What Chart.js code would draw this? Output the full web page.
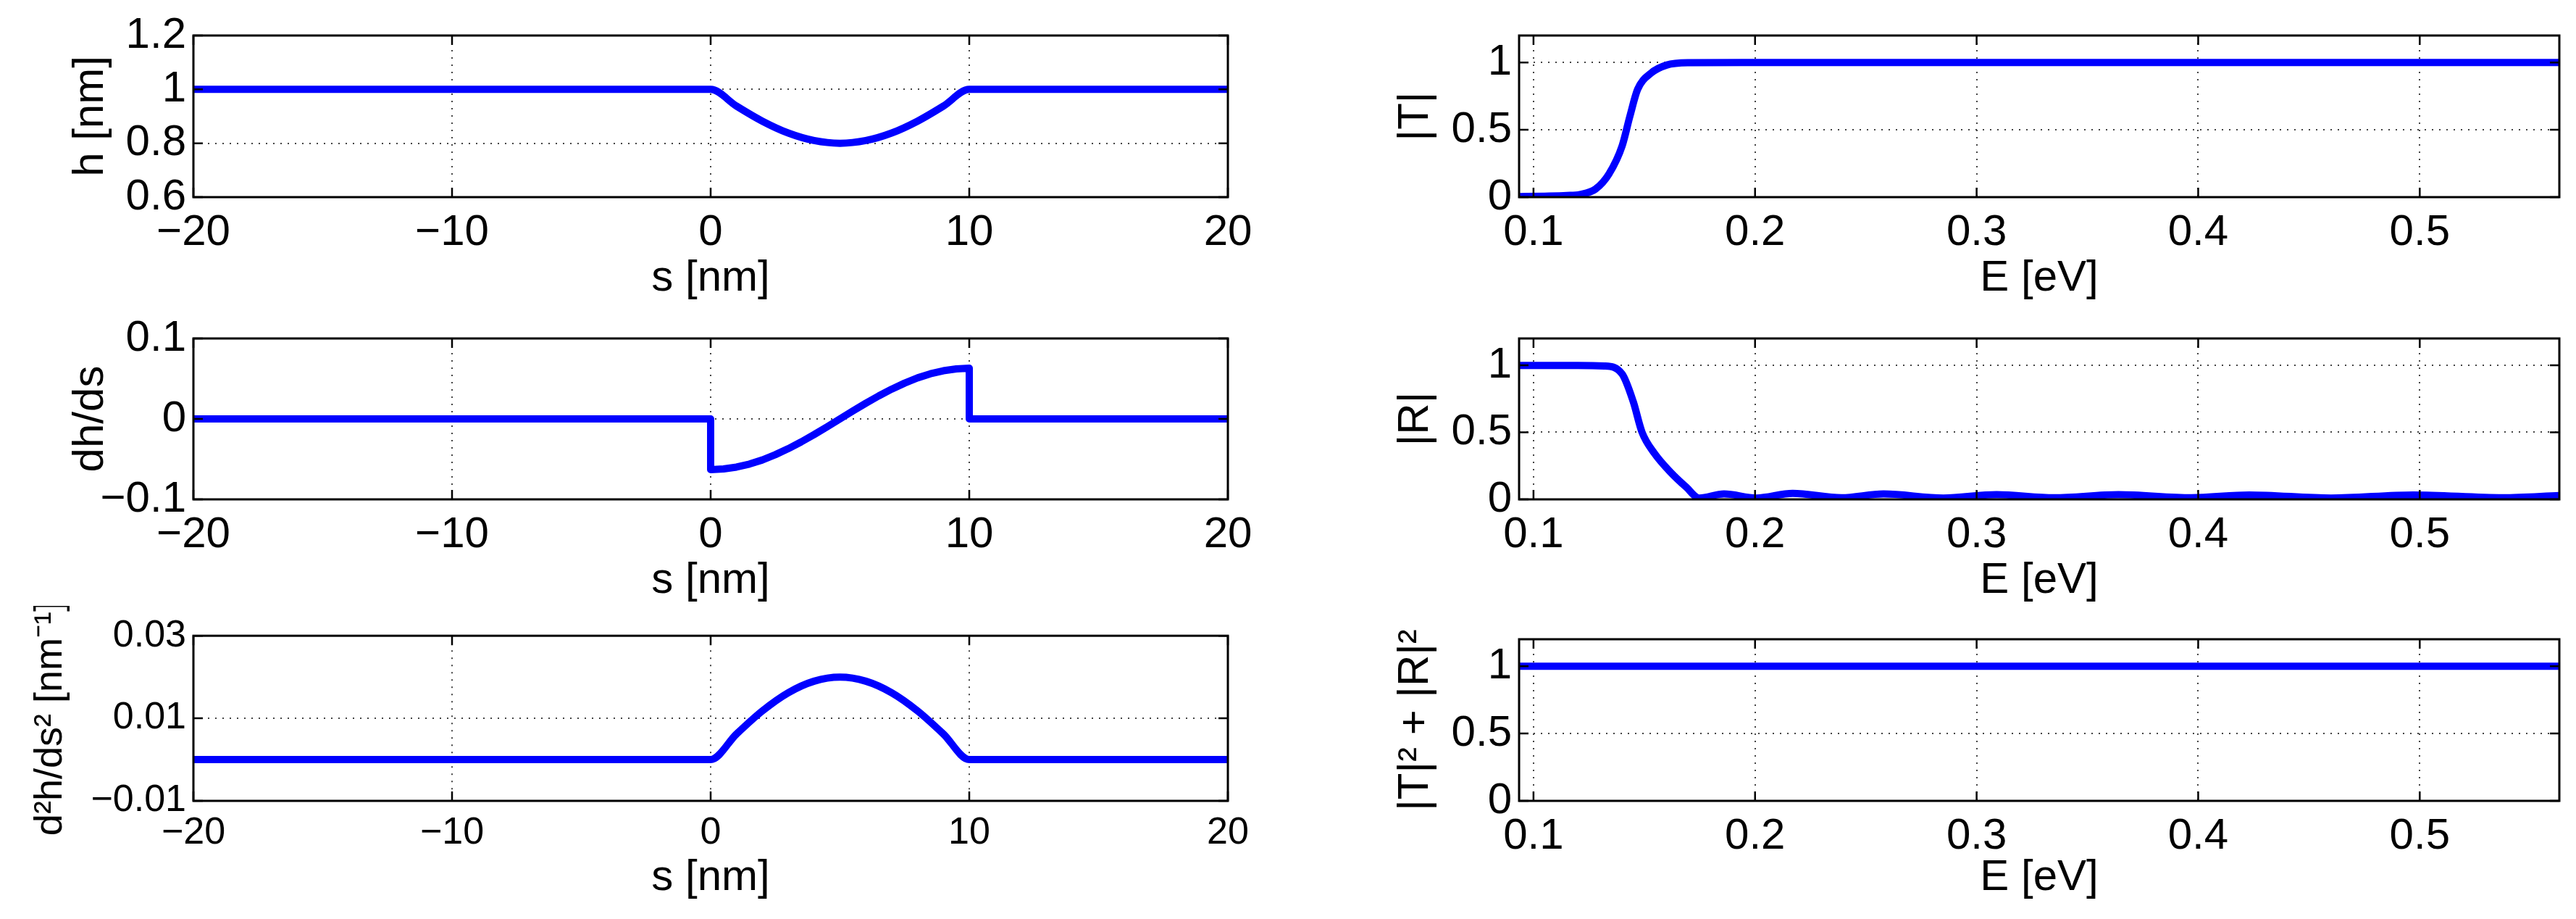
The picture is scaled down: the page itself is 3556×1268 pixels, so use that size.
<!DOCTYPE html>
<html><head><meta charset="utf-8">
<script src="https://cdn.jsdelivr.net/npm/chart.js@4"></script>
<style>
html,body{margin:0;padding:0;background:#fff;width:3556px;height:1268px;overflow:hidden;position:relative}
.c{position:absolute}
</style></head><body>
<script>
// ---- data ----
const hS   = [-20, 0, 1, 2, 3, 4, 5, 6, 7, 8, 9, 10, 20];
const hV   = [1, 1, 0.938, 0.882, 0.838, 0.810, 0.800, 0.810, 0.838, 0.882, 0.938, 1, 1];
const dhS  = [-20, 0, 0, 0.5, 1, 1.5, 2, 2.5, 3, 3.5, 4, 4.5, 5, 5.5, 6, 6.5, 7, 7.5, 8, 8.5, 9, 9.5, 10, 10, 20];
const dhV  = [0, 0, -0.063, -0.0622, -0.0599, -0.0561, -0.051, -0.0445, -0.037, -0.0286, -0.0195, -0.0099, 0,
              0.0099, 0.0195, 0.0286, 0.037, 0.0445, 0.051, 0.0561, 0.0599, 0.0622, 0.063, 0, 0];
const d2S  = [-20, 0, 1, 2, 3, 4, 5, 6, 7, 8, 9, 10, 20];
const d2V  = [0, 0, 0.0062, 0.0118, 0.0162, 0.019, 0.020, 0.019, 0.0162, 0.0118, 0.0062, 0, 0];

const tE = [0.0935, 0.105, 0.115, 0.121, 0.128, 0.134, 0.140, 0.1435, 0.147, 0.153, 0.160, 0.170, 0.20, 0.563];
const tV = [0.004, 0.007, 0.012, 0.02, 0.06, 0.17, 0.38, 0.60, 0.80, 0.92, 0.98, 0.998, 1.0, 1.0];
const rE = [0.0935, 0.120, 0.132, 0.140, 0.145, 0.149, 0.1545, 0.162, 0.169, 0.1748, 0.186, 0.2005, 0.217, 0.239, 0.258, 0.285, 0.309, 0.335, 0.364, 0.397, 0.423, 0.460, 0.497, 0.5375, 0.563];
const rV = [0.998, 0.998, 0.995, 0.935, 0.73, 0.50, 0.345, 0.20, 0.09, 0.01, 0.04, 0.01, 0.045, 0.012, 0.04, 0.01, 0.035, 0.012, 0.035, 0.012, 0.033, 0.01, 0.033, 0.012, 0.028];
const sumE = [0.0935, 0.563];
const sumV = [1, 1];

const sTicks = [-20, -10, 0, 10, 20];
const eTicks = [0.1, 0.2, 0.3, 0.4, 0.5];
const hTicks = [0.6, 0.8, 1, 1.2];
const dhTicks = [-0.1, 0, 0.1];
const d2Ticks = [-0.01, 0.01, 0.03];
const trTicks = [0, 0.5, 1];

// ---- layout ----
const rows = [[43, 272], [461, 689], [876, 1105]];
const cols = [{L: 0, W: 1778, pl: 267, pr: 1695, tp: 89}, {L: 1778, W: 1778, pl: 2097, pr: 3533, tp: 140}];
const FONT = "'Liberation Sans', Arial, Helvetica, sans-serif";

function fmt(v){ return String(+v.toFixed(4)).replace('-', '\u2212'); }

const boxPlugin = {
  id: 'box',
  afterDraw(chart) {
    const {ctx, chartArea: a, scales} = chart;
    ctx.save();
    ctx.strokeStyle = '#000'; ctx.lineWidth = 3;
    ctx.strokeRect(a.left, a.top, a.right - a.left, a.bottom - a.top);
    ctx.lineWidth = 2.5;
    const L = 13;
    scales.x.ticks.forEach(t => {
      const px = scales.x.getPixelForValue(t.value);
      ctx.beginPath(); ctx.moveTo(px, a.bottom); ctx.lineTo(px, a.bottom - L);
      ctx.moveTo(px, a.top); ctx.lineTo(px, a.top + L); ctx.stroke();
    });
    scales.y.ticks.forEach(t => {
      const py = scales.y.getPixelForValue(t.value);
      ctx.beginPath(); ctx.moveTo(a.left, py); ctx.lineTo(a.left + L, py);
      ctx.moveTo(a.right, py); ctx.lineTo(a.right - L, py); ctx.stroke();
    });
    ctx.restore();
  }
};

function panel(col, row, xs, ys, xr, yr, xt, yt, xTitle, yTitle, opt) {
  const c = cols[col], [pt, pb] = rows[row];
  const top = pt - 40, H = (pb + 150) - top;
  const div = document.createElement('div');
  div.className = 'c';
  div.style.cssText = `left:${c.L}px;top:${top}px;width:${c.W}px;height:${H}px`;
  const cv = document.createElement('canvas');
  div.appendChild(cv); document.body.appendChild(div);
  const tickFont = opt.tickSize || 60;
  const edge = (v, r) => Math.abs(v - r[0]) < 1e-9 || Math.abs(v - r[1]) < 1e-9;
  new Chart(cv, {
    type: 'line',
    data: { datasets: [{
      data: xs.map((x, i) => ({x, y: ys[i]})),
      borderColor: '#0000ff', borderWidth: 10, pointRadius: 0,
      tension: opt.mono ? 0.4 : 0, cubicInterpolationMode: opt.mono ? 'monotone' : 'default', fill: false,
      borderCapStyle: 'butt', borderJoinStyle: 'round'
    }]},
    options: {
      responsive: true, maintainAspectRatio: false, animation: false,
      devicePixelRatio: 1,
      layout: { padding: { top: 40, right: c.L + c.W - c.pr, left: 0, bottom: 0 } },
      plugins: { legend: {display: false}, tooltip: {enabled: false} },
      scales: {
        x: {
          type: 'linear', min: xr[0], max: xr[1],
          afterBuildTicks: s => { s.ticks = xt.map(v => ({value: v})); },
          afterFit: s => { s.height = 150; },
          ticks: { color: '#000', font: {family: FONT, size: tickFont}, padding: 13, maxRotation: 0, autoSkip: false, callback: v => fmt(v) },
          grid: { color: ctx => (ctx.tick && edge(ctx.tick.value, xr)) ? 'rgba(0,0,0,0)' : '#444', lineWidth: 2, drawTicks: false },
          border: { display: false, dash: [2, 8] },
          title: { display: true, text: xTitle, color: '#000', font: {family: FONT, size: 60}, padding: {top: 0, bottom: opt.xtp || 2} }
        },
        y: {
          type: 'linear', min: yr[0], max: yr[1],
          afterBuildTicks: s => { s.ticks = yt.map(v => ({value: v})); },
          afterFit: s => { s.width = c.pl - c.L; },
          ticks: { color: '#000', font: {family: FONT, size: tickFont}, padding: 10, autoSkip: false, callback: v => fmt(v) },
          grid: { color: ctx => (ctx.tick && edge(ctx.tick.value, yr)) ? 'rgba(0,0,0,0)' : '#444', lineWidth: 2, drawTicks: false },
          border: { display: false, dash: [2, 8] },
          title: { display: true, text: yTitle, color: '#000', font: {family: FONT, size: opt.ytSize || 60}, padding: {top: opt.ytp != null ? opt.ytp : c.tp, bottom: 0} }
        }
      }
    },
    plugins: [boxPlugin]
  });
}

panel(0, 0, hS, hV, [-20, 20], [0.6, 1.2], sTicks, hTicks, 's [nm]', 'h [nm]', {mono: true});
panel(0, 1, dhS, dhV, [-20, 20], [-0.1, 0.1], sTicks, dhTicks, 's [nm]', 'dh/ds', {});
panel(0, 2, d2S, d2V, [-20, 20], [-0.01, 0.03], sTicks, d2Ticks, 's [nm]', 'd\u00B2h/ds\u00B2 [nm\u207B\u00B9]', {mono: true, tickSize: 52, ytSize: 54, ytp: 38, xtp: 8});
panel(1, 0, tE, tV, [0.0935, 0.563], [0, 1.2], eTicks, trTicks, 'E [eV]', '|T|', {mono: true});
panel(1, 1, rE, rV, [0.0935, 0.563], [0, 1.2], eTicks, trTicks, 'E [eV]', '|R|', {mono: true});
panel(1, 2, sumE, sumV, [0.0935, 0.563], [0, 1.2], eTicks, trTicks, 'E [eV]', '|T|\u00B2 + |R|\u00B2', {xtp: 8});
</script>
</body></html>
